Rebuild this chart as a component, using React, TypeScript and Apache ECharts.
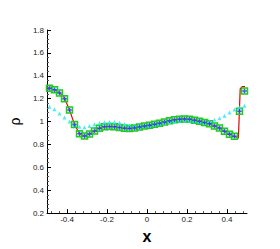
import React, { useEffect, useRef } from "react";
import * as echarts from "echarts";

const cellX = [
  -0.4875, -0.4625, -0.4375, -0.4125, -0.3875, -0.3625, -0.3375, -0.3125, -0.2875, -0.2625,
  -0.2375, -0.2125, -0.1875, -0.1625, -0.1375, -0.1125, -0.0875, -0.0625, -0.0375, -0.0125,
  0.0125, 0.0375, 0.0625, 0.0875, 0.1125, 0.1375, 0.1625, 0.1875, 0.2125, 0.2375,
  0.2625, 0.2875, 0.3125, 0.3375, 0.3625, 0.3875, 0.4125, 0.4375, 0.4625, 0.4875,
];
const rhoScheme = [
  1.29, 1.277, 1.25, 1.2, 1.1, 0.975, 0.893, 0.874, 0.891, 0.918,
  0.942, 0.955, 0.956, 0.955, 0.948, 0.942, 0.94, 0.944, 0.953, 0.962,
  0.968, 0.976, 0.986, 0.996, 1.006, 1.015, 1.021, 1.023, 1.021, 1.012,
  1.003, 0.992, 0.98, 0.962, 0.943, 0.915, 0.89, 0.872, 1.09, 1.267,
];
const rhoOther = [
  1.13, 1.108, 1.07, 1.036, 1.0, 0.975, 0.955, 0.95, 0.962, 0.977,
  0.987, 0.993, 0.996, 0.995, 0.99, 0.978, 0.968, 0.962, 0.96, 0.962,
  0.966, 0.972, 0.98, 0.988, 0.996, 1.003, 1.008, 1.01, 1.008, 1.003,
  0.997, 0.995, 1.002, 1.015, 1.028, 1.05, 1.078, 1.105, 1.125, 1.139,
];
const exactX = [
  -0.5, -0.4875, -0.4625, -0.4375, -0.4125, -0.3875, -0.3625, -0.3375, -0.3125, -0.2875,
  -0.2625, -0.2375, -0.2125, -0.1875, -0.1625, -0.1375, -0.1125, -0.0875, -0.0625, -0.0375,
  -0.0125, 0.0125, 0.0375, 0.0625, 0.0875, 0.1125, 0.1375, 0.1625, 0.1875, 0.2125,
  0.2375, 0.2625, 0.2875, 0.3125, 0.3375, 0.3625, 0.3875, 0.4125, 0.4375, 0.457,
  0.466, 0.476, 0.49,
];
const exactY = [
  1.3, 1.292, 1.278, 1.252, 1.205, 1.1, 0.975, 0.893, 0.872, 0.891,
  0.918, 0.942, 0.955, 0.956, 0.955, 0.948, 0.942, 0.94, 0.944, 0.953,
  0.962, 0.968, 0.976, 0.986, 0.996, 1.006, 1.015, 1.021, 1.023, 1.021,
  1.012, 1.003, 0.992, 0.98, 0.962, 0.943, 0.915, 0.89, 0.868, 0.856,
  1.286, 1.305, 1.305,
];
const xMajorTicks = [-0.4, -0.2, 0, 0.2, 0.4];
const xMinorTicks = [
  -0.48, -0.44, -0.36, -0.32, -0.28, -0.24, -0.16, -0.12, -0.08, -0.04,
  0.04, 0.08, 0.12, 0.16, 0.24, 0.28, 0.32, 0.36, 0.44, 0.48,
];

const pair = (xs: number[], ys: number[]) => xs.map((x, i) => [x, ys[i]]);

const FONT = "Liberation Sans, Arial, sans-serif";
const PLUS = "path://M1,0H2V1H3V2H2V3H1V2H0V1H1Z";

export default function App() {
  const ref = useRef<HTMLDivElement>(null);
  useEffect(() => {
    if (!ref.current) return;
    const chart = echarts.init(ref.current, undefined, { renderer: "svg" });
    chart.setOption({
      animation: false,
      backgroundColor: "#ffffff",
      grid: { left: 37, right: 33, top: 30, bottom: 27, containLabel: false },
      xAxis: [
        {
          type: "value",
          min: -0.5,
          max: 0.5,
          position: "bottom",
          name: "x",
          nameLocation: "middle",
          nameGap: 8,
          nameTextStyle: { fontFamily: FONT, fontSize: 16, fontWeight: "bold", color: "#000" },
          axisLine: { show: true, onZero: false, lineStyle: { color: "#000", width: 1 } },
          axisTick: { show: true, inside: true, length: 4, customValues: xMajorTicks, lineStyle: { color: "#000" } },
          axisLabel: { show: true, margin: 2, customValues: xMajorTicks, fontFamily: FONT, fontSize: 8, color: "#222" },
          splitLine: { show: false },
        },
        {
          type: "value",
          min: -0.5,
          max: 0.5,
          position: "bottom",
          axisLine: { show: false },
          axisTick: { show: true, inside: true, length: 2, customValues: xMinorTicks, lineStyle: { color: "#555" } },
          axisLabel: { show: false },
          splitLine: { show: false },
        },
      ],
      yAxis: {
        type: "value",
        min: 0.2,
        max: 1.8,
        interval: 0.2,
        name: "ρ",
        nameLocation: "middle",
        nameRotate: 90,
        nameGap: 15,
        nameTextStyle: { fontFamily: FONT, fontSize: 14, color: "#000" },
        axisLine: { show: true, onZero: false, lineStyle: { color: "#000", width: 1 } },
        axisTick: { show: true, inside: true, length: 4, lineStyle: { color: "#000" } },
        minorTick: { show: true, splitNumber: 5, length: 2, lineStyle: { color: "#555" } },
        axisLabel: { margin: 3, fontFamily: FONT, fontSize: 8, color: "#222" },
        splitLine: { show: false },
      },
      series: [
        {
          type: "line",
          data: pair(exactX, exactY),
          showSymbol: false,
          symbol: "none",
          lineStyle: { color: "#e00000", width: 1.2 },
          z: 1,
        },
        {
          type: "scatter",
          data: pair(cellX, rhoScheme),
          symbol: "rect",
          symbolSize: 6,
          itemStyle: { color: "rgba(170,255,170,0.35)", borderColor: "#1fcc1f", borderWidth: 1.5, opacity: 1 },
          z: 2,
        },
        {
          type: "scatter",
          data: pair(cellX, rhoOther),
          symbol: "triangle",
          symbolSize: 4,
          itemStyle: { color: "#22e8f0" },
          z: 3,
        },
        {
          type: "scatter",
          data: pair(cellX, rhoScheme),
          symbol: PLUS,
          symbolSize: 4.5,
          itemStyle: { color: "#2a2aff" },
          z: 4,
        },
      ],
    });
    return () => chart.dispose();
  }, []);
  return <div ref={ref} style={{ position: "fixed", left: 0, top: 0, width: 280, height: 249 }} />;
}
